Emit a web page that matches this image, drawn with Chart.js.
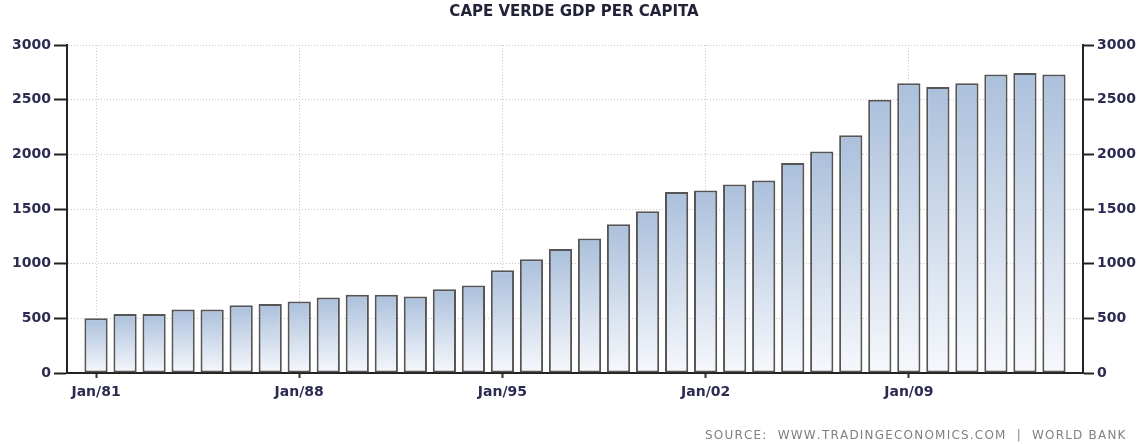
<!DOCTYPE html>
<html>
<head>
<meta charset="utf-8">
<script src="https://cdn.jsdelivr.net/npm/chart.js@4"></script>
<style>
  html, body { margin: 0; padding: 0; background: #fff; }
  #wrap { width: 1143px; height: 444px; }
</style>
</head>
<body>
<div id="wrap"><canvas id="gdpChart" width="1143" height="444"></canvas></div>
<script>
// data
var years = [1981, 1982, 1983, 1984, 1985, 1986, 1987, 1988, 1989, 1990,
             1991, 1992, 1993, 1994, 1995, 1996, 1997, 1998, 1999, 2000,
             2001, 2002, 2003, 2004, 2005, 2006, 2007, 2008, 2009, 2010,
             2011, 2012, 2013, 2014];
var gdpPerCapita = [500, 540, 540, 580, 580, 620, 630, 655, 690, 715,
                    715, 700, 765, 800, 940, 1040, 1135, 1230, 1360, 1480,
                    1655, 1670, 1725, 1760, 1920, 2025, 2175, 2500, 2650, 2615,
                    2650, 2730, 2745, 2730];
var tickYears = [1981, 1988, 1995, 2002, 2009];
var tickLabels = ['Jan/81', 'Jan/88', 'Jan/95', 'Jan/02', 'Jan/09'];
var yTicks = [0, 500, 1000, 1500, 2000, 2500, 3000];

var labelColor = '#2c2c52';
var tickFont = { family: 'DejaVu Sans', size: 14, weight: 'bold' };

var points = years.map(function (yr, i) { return { x: yr, y: gdpPerCapita[i] }; });

function barGradient(context) {
    var chart = context.chart;
    var area = chart.chartArea;
    if (!area || context.type !== 'data') return '#c4d2e6';
    var yScale = chart.scales.y;
    var top = yScale.getPixelForValue(gdpPerCapita[context.dataIndex]);
    var bottom = yScale.getPixelForValue(0);
    var g = chart.ctx.createLinearGradient(0, top, 0, bottom);
    g.addColorStop(0, '#abc0dc');
    g.addColorStop(1, '#f6f8fc');
    return g;
}

function plainNumber(value) { return String(value); }

var textPlugin = {
    id: 'texts',
    afterDraw: function (chart) {
        var ctx = chart.ctx;
        ctx.save();
        ctx.fillStyle = '#222238';
        ctx.font = 'bold 15px "DejaVu Sans"';
        ctx.textAlign = 'center';
        ctx.textBaseline = 'middle';
        ctx.fillText('CAPE VERDE GDP PER CAPITA', 574, 12);

        // source line, spread out to fit
        var src = 'SOURCE:  WWW.TRADINGECONOMICS.COM  |  WORLD BANK';
        ctx.font = '12px "DejaVu Sans"';
        ctx.fillStyle = '#808080';
        ctx.textAlign = 'left';
        var plain = ctx.measureText(src).width;
        var gap = (418 - plain) / (src.length - 1);
        var x = 705;
        for (var i = 0; i < src.length; i++) {
            ctx.fillText(src[i], x, 436);
            x += ctx.measureText(src[i]).width + gap;
        }
        ctx.restore();
    }
};

var ctx = document.getElementById('gdpChart').getContext('2d');
var myChart = new Chart(ctx, {
    type: 'bar',
    data: {
        datasets: [{
            data: points,
            backgroundColor: barGradient,
            borderColor: '#555555',
            borderWidth: 2,
            borderSkipped: false,
            barPercentage: 0.8,
            categoryPercentage: 1,
            yAxisID: 'y'
        }]
    },
    options: {
        responsive: false,
        animation: false,
        layout: { padding: { top: 45, right: 0, left: 0, bottom: 0 } },
        plugins: {
            legend: { display: false },
            tooltip: { enabled: false },
            title: { display: false }
        },
        scales: {
            x: {
                type: 'linear',
                min: 1980,
                max: 2015,
                offset: false,
                afterBuildTicks: function (scale) {
                    scale.ticks = tickYears.map(function (v) { return { value: v }; });
                },
                afterFit: function (scale) { scale.height = 71; },
                ticks: {
                    color: labelColor,
                    font: tickFont,
                    padding: 6,
                    maxRotation: 0,
                    autoSkip: false,
                    callback: function (value) {
                        var i = tickYears.indexOf(value);
                        return i >= 0 ? tickLabels[i] : '';
                    }
                },
                grid: {
                    offset: false,
                    color: '#c8c8c8',
                    lineWidth: 1,
                    tickColor: '#333',
                    tickLength: 5,
                    tickWidth: 2
                },
                border: { color: '#222', width: 2, dash: [1, 2] }
            },
            y: {
                position: 'left',
                min: 0,
                max: 3000,
                afterBuildTicks: function (scale) {
                    scale.ticks = yTicks.map(function (v) { return { value: v }; });
                },
                afterFit: function (scale) { scale.width = 67; },
                ticks: { color: labelColor, font: tickFont, padding: 3, callback: plainNumber },
                grid: {
                    color: '#c8c8c8',
                    lineWidth: 1,
                    tickColor: '#222',
                    tickLength: 13,
                    tickWidth: 2
                },
                border: { color: '#222', width: 2, dash: [1, 2] }
            },
            y2: {
                position: 'right',
                min: 0,
                max: 3000,
                afterBuildTicks: function (scale) {
                    scale.ticks = yTicks.map(function (v) { return { value: v }; });
                },
                afterFit: function (scale) { scale.width = 60; },
                ticks: { color: labelColor, font: tickFont, padding: 3, callback: plainNumber },
                grid: {
                    drawOnChartArea: false,
                    tickColor: '#222',
                    tickLength: 11,
                    tickWidth: 2
                },
                border: { color: '#222', width: 2 }
            }
        }
    },
    plugins: [textPlugin]
});
</script>
</body>
</html>
